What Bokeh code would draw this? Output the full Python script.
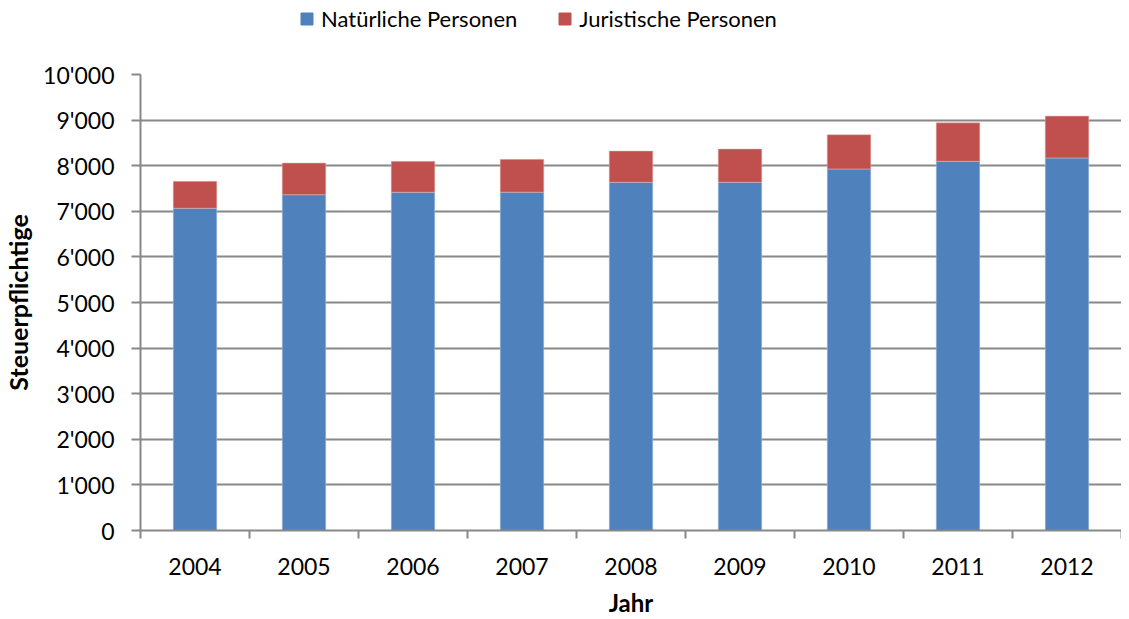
from bokeh.plotting import figure
from bokeh.layouts import column
from bokeh.models import ColumnDataSource, FixedTicker, Legend, LegendItem
from bokeh.embed import file_html
from bokeh.resources import INLINE

years = ["2004", "2005", "2006", "2007", "2008", "2009", "2010", "2011", "2012"]
natuerliche = [7066, 7364, 7417, 7420, 7636, 7636, 7928, 8096, 8169]
juristische = [592, 695, 679, 720, 686, 730, 752, 845, 919]
series_names = ["Natürliche Personen", "Juristische Personen"]
y_ticks = [0, 1000, 2000, 3000, 4000, 5000, 6000, 7000, 8000, 9000, 10000]
y_tick_labels = ["0", "1'000", "2'000", "3'000", "4'000", "5'000", "6'000",
                 "7'000", "8'000", "9'000", "10'000"]

FONT = "Lato"
BLUE = "#4F81BD"
RED = "#C0504D"
GRID = "#888888"
W = 1121
TOTAL_H = 619
LEG_H = 40

n = len(years)
centers = [i + 0.5 for i in range(n)]
bounds = [float(i) for i in range(n + 1)]
totals = [a + b for a, b in zip(natuerliche, juristische)]

src = ColumnDataSource(dict(x=centers, nat=natuerliche, jur=juristische, tot=totals))

p = figure(width=W, height=TOTAL_H - LEG_H, x_range=(0, n), y_range=(0, 10000),
           output_backend="svg", toolbar_location=None,
           min_border_left=135, min_border_right=0, min_border_top=34,
           min_border_bottom=89)
p.outline_line_color = None
p.background_fill_color = "white"
p.border_fill_color = "white"

r1 = p.vbar(x="x", bottom=0, top="nat", width=0.4, source=src,
            fill_color=BLUE, line_color="#B9CDE5", line_width=0.5)
r2 = p.vbar(x="x", bottom="nat", top="tot", width=0.4, source=src,
            fill_color=RED, line_color="#E6B9B8", line_width=0.5)

# x axis
xa = p.xaxis[0]
xa.ticker = FixedTicker(ticks=centers, minor_ticks=bounds)
xa.major_label_overrides = {c: y for c, y in zip(centers, years)}
xa.major_tick_out = 0
xa.major_tick_in = 0
xa.minor_tick_out = 8
xa.minor_tick_in = 0
xa.minor_tick_line_color = GRID
xa.minor_tick_line_width = 2
xa.axis_line_color = GRID
xa.axis_line_width = 2
xa.major_label_text_font = FONT
xa.major_label_text_font_size = "23px"
xa.major_label_text_color = "black"
xa.major_label_standoff = 19
xa.axis_label = "Jahr"
xa.axis_label_text_font = FONT
xa.axis_label_text_font_style = "bold"
xa.axis_label_text_font_size = "24px"
xa.axis_label_text_color = "black"
xa.axis_label_standoff = 10

# y axis
ya = p.yaxis[0]
ya.ticker = FixedTicker(ticks=y_ticks, minor_ticks=[])
ya.major_label_overrides = {t: l for t, l in zip(y_ticks, y_tick_labels)}
ya.major_tick_out = 9
ya.major_tick_in = 0
ya.major_tick_line_color = GRID
ya.major_tick_line_width = 2
ya.axis_line_color = GRID
ya.axis_line_width = 2
ya.major_label_text_font = FONT
ya.major_label_text_font_size = "23px"
ya.major_label_text_color = "black"
ya.major_label_standoff = 17
ya.axis_label = "Steuerpflichtige"
ya.axis_label_text_font = FONT
ya.axis_label_text_font_style = "bold"
ya.axis_label_text_font_size = "25px"
ya.axis_label_text_color = "black"
ya.axis_label_standoff = 7

p.xgrid.grid_line_color = None
p.ygrid.ticker = FixedTicker(ticks=y_ticks)
p.ygrid.grid_line_color = GRID
p.ygrid.grid_line_width = 2

# legend strip on top (uses hidden copies of the bar renderers)
lg = figure(width=W, height=LEG_H, x_range=(0, 1), y_range=(0, 1),
            x_axis_type=None, y_axis_type=None,
            output_backend="svg", toolbar_location=None,
            min_border_left=0, min_border_right=0, min_border_top=0,
            min_border_bottom=0)
lg.outline_line_color = None
lg.xgrid.visible = False
lg.ygrid.visible = False
lr1 = lg.vbar(x="x", bottom=0, top="nat", width=0.4, source=src,
              fill_color=BLUE, line_color=BLUE, visible=False)
lr2 = lg.vbar(x="x", bottom="nat", top="tot", width=0.4, source=src,
              fill_color=RED, line_color=RED, visible=False)
legend = Legend(items=[LegendItem(label=series_names[0], renderers=[lr1]),
                       LegendItem(label=series_names[1], renderers=[lr2])],
                orientation="horizontal", location=(159, 8),
                label_text_font=FONT, label_text_font_size="22px",
                label_text_color="black", glyph_width=15, glyph_height=15,
                spacing=40, padding=0, margin=0, label_standoff=7,
                inactive_fill_alpha=0,
                border_line_color=None, background_fill_alpha=0)
lg.add_layout(legend, "center")

layout = column(lg, p, spacing=0)
open("out.html", "w").write(file_html(layout, INLINE))
